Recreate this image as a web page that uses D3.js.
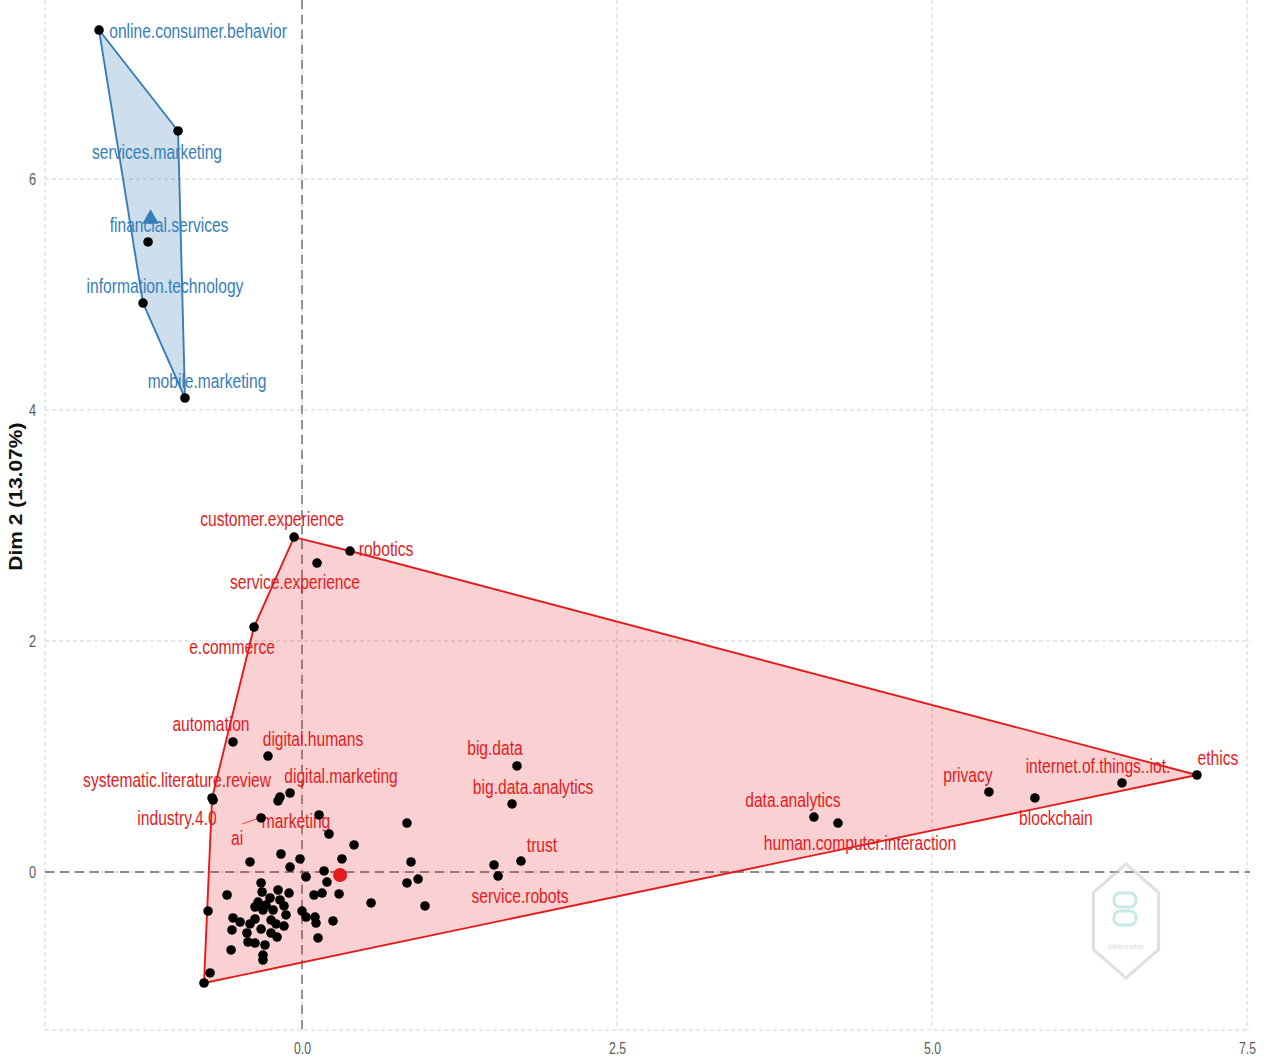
<!DOCTYPE html>
<html>
<head>
<meta charset="utf-8">
<script src="https://cdn.jsdelivr.net/npm/d3@7"></script>
<style>
  html, body { margin: 0; padding: 0; background: #ffffff; }
  svg { display: block; }
  .lbl { font-family: "Liberation Sans", Arial, sans-serif; font-size: 19.5px; }
  .tick-lbl { font-family: "Liberation Sans", Arial, sans-serif; font-size: 17px; fill: #5a5a5a; }
</style>
</head>
<body>
<svg id="chart" width="1271" height="1064"></svg>
<script>
// ---- Cluster 1 (blue): labelled words
const blueWords = ["online.consumer.behavior", "services.marketing", "financial.services",
                   "information.technology", "mobile.marketing"];
const blueX = [-1.611, -0.984, -1.222, -1.262, -0.929];
const blueY = [7.290, 6.416, 5.455, 4.926, 4.104];
const blueCentroid = [-1.202, 5.638];

// ---- Cluster 2 (red): labelled words
const redWords = ["customer.experience", "robotics", "service.experience", "e.commerce", "automation",
  "digital.humans", "systematic.literature.review", "industry.4.0", "digital.marketing", "ai",
  "marketing", "big.data", "big.data.analytics", "trust", "service.robots", "data.analytics",
  "human.computer.interaction", "privacy", "blockchain", "internet.of.things..iot.", "ethics"];
const redX = [-0.063, 0.381, 0.119, -0.381, -0.548, -0.270, -0.714, -0.706, -0.095, -0.325,
  0.135, 1.706, 1.667, 1.738, 1.556, 4.063, 4.254, 5.452, 5.817, 6.508, 7.103];
const redY = [2.900, 2.779, 2.675, 2.121, 1.126, 1.004, 0.641, 0.623, 0.684, 0.468,
  0.494, 0.918, 0.589, 0.095, -0.035, 0.476, 0.424, 0.693, 0.641, 0.771, 0.840];

// ---- Cluster 2 (red): remaining words (unlabelled)
const redOtherX = [-0.190, -0.175, 1.524, -0.167, -0.413, -0.016, -0.095, 0.214, 0.175, 0.032,
  0.198, -0.325, -0.595, -0.317, -0.190, -0.103, 0.095, 0.159, -0.746, -0.254,
  -0.175, -0.349, -0.286, -0.373, -0.143, -0.230, -0.310, -0.127, 0.000, 0.032,
  0.103, 0.246, -0.548, -0.492, -0.413, -0.373, -0.325, -0.246, -0.206, -0.143,
  -0.556, -0.437, -0.246, -0.198, 0.127, -0.429, -0.373, -0.294, -0.563, -0.310,
  -0.310, -0.730, -0.778, 0.413, 0.317, 0.294, 0.548, 0.833, 0.865, 0.833,
  0.921, 0.976, 0.111];
const redOtherY = [0.615, 0.649, 0.061, 0.156, 0.087, 0.113, 0.043, 0.329, 0.009, -0.043,
  -0.087, -0.095, -0.199, -0.173, -0.156, -0.182, -0.199, -0.182, -0.338, -0.225,
  -0.242, -0.260, -0.286, -0.303, -0.294, -0.329, -0.329, -0.372, -0.338, -0.390,
  -0.390, -0.424, -0.398, -0.433, -0.450, -0.407, -0.494, -0.416, -0.450, -0.468,
  -0.502, -0.528, -0.528, -0.563, -0.571, -0.606, -0.615, -0.632, -0.675, -0.719,
  -0.762, -0.874, -0.961, 0.234, 0.113, -0.190, -0.268, 0.424, 0.087, -0.095,
  -0.061, -0.294, -0.442];
const redCentroid = [0.302, -0.026];

// ---- Axes
const xTicks = [0, 2.5, 5, 7.5];
const yTicks = [0, 2, 4, 6];
const yTitle = "Dim 2 (13.07%)";

// ---- Label placement (pixel offsets from each point, repel-style layout)
const blueLabelOffset = [[99, 1], [-21, 21], [21, -17], [22, -17], [22, -17]];
const redLabelOffset = [[-22, -18], [36, -2], [-22, 19], [-22, 20], [-22, -18],
  [45, -17], [-35, -18], [-36, 18], [51, -17], [-24, 20],
  [-23, 6], [-22, -18], [21, -17], [21, -16], [22, 20], [-21, -17],
  [22, 20], [-21, -17], [21, 20], [-24, -17], [21, -17]];

(function draw() {
  const COL_RED = "#E41A1C";
  const COL_BLUE = "#377EB8";
  const SQUEEZE = 0.8;   // condensed text width

  const svg = d3.select("#chart");
  const pLeft = 45, pRight = 1250, pTop = 0, pBottom = 1030;

  const x = d3.scaleLinear().domain([-2.04, 7.524]).range([pLeft, pRight]);
  const y = d3.scaleLinear().domain([-1.368, 7.55]).range([pBottom, pTop]);

  // panel grid
  const grid = svg.append("g");
  grid.selectAll("line.vg").data(xTicks).join("line")
    .attr("x1", d => x(d)).attr("x2", d => x(d)).attr("y1", pTop).attr("y2", pBottom)
    .attr("stroke", "#cfcfcf").attr("stroke-width", 1).attr("stroke-dasharray", "4,3");
  grid.selectAll("line.hg").data(yTicks).join("line")
    .attr("x1", pLeft).attr("x2", pRight).attr("y1", d => y(d)).attr("y2", d => y(d))
    .attr("stroke", "#cfcfcf").attr("stroke-width", 1).attr("stroke-dasharray", "4,3");
  grid.append("line").attr("x1", pLeft).attr("x2", pLeft).attr("y1", pTop).attr("y2", pBottom)
    .attr("stroke", "#cfcfcf").attr("stroke-dasharray", "4,3");
  grid.append("line").attr("x1", pLeft).attr("x2", pRight).attr("y1", pBottom).attr("y2", pBottom)
    .attr("stroke", "#cfcfcf").attr("stroke-dasharray", "4,3");

  // origin lines
  svg.append("line").attr("x1", x(0)).attr("x2", x(0)).attr("y1", pTop).attr("y2", pBottom)
    .attr("stroke", "#6b6b6b").attr("stroke-width", 1.4).attr("stroke-dasharray", "9,6");
  svg.append("line").attr("x1", pLeft).attr("x2", pRight).attr("y1", y(0)).attr("y2", y(0))
    .attr("stroke", "#6b6b6b").attr("stroke-width", 1.4).attr("stroke-dasharray", "9,6");

  // condense a text node horizontally around its own anchor point
  function squeeze(sel, k) {
    sel.each(function () {
      const t = d3.select(this);
      const tx = +t.attr("x") || 0, ty = +t.attr("y") || 0;
      t.attr("transform", `translate(${tx},${ty}) scale(${k},1) translate(${-tx},${-ty})`);
    });
  }

  // axes
  const xAxis = d3.axisBottom(x).tickValues(xTicks).tickFormat(d3.format(".1f")).tickSize(0).tickPadding(12);
  const gx = svg.append("g").attr("transform", `translate(0,${pBottom})`).call(xAxis);
  gx.select(".domain").remove();
  gx.attr("font-size", null).attr("font-family", null);
  gx.selectAll("text").attr("class", "tick-lbl").attr("fill", null).call(squeeze, 0.72);

  const yAxis = d3.axisLeft(y).tickValues(yTicks).tickFormat(d3.format("d")).tickSize(0).tickPadding(9);
  const gy = svg.append("g").attr("transform", `translate(${pLeft},0)`).call(yAxis);
  gy.select(".domain").remove();
  gy.attr("font-size", null).attr("font-family", null);
  gy.selectAll("text").attr("class", "tick-lbl").attr("fill", null).call(squeeze, 0.75);

  svg.append("text")
    .attr("transform", `translate(22,${y(3.25)}) rotate(-90) scale(1,0.85)`)
    .attr("text-anchor", "middle")
    .attr("font-family", "Liberation Sans, Arial, sans-serif")
    .attr("font-weight", "bold").attr("font-size", 21).attr("fill", "#111")
    .text(yTitle);

  // watermark logo
  const wm = svg.append("g").attr("transform", "translate(1126,921)").attr("opacity", 0.55);
  const hexR = 57;
  const hexPts = d3.range(6).map(i => {
    const a = Math.PI / 2 + i * Math.PI / 3;
    return [Math.cos(a) * hexR * 0.66, -Math.sin(a) * hexR];
  });
  wm.append("polygon").attr("points", hexPts.map(p => p.join(",")).join(" "))
    .attr("fill", "none").attr("stroke", "#c8c8c8").attr("stroke-width", 3);
  wm.append("rect").attr("x", -12).attr("y", -28).attr("width", 22).attr("height", 14).attr("rx", 6)
    .attr("fill", "none").attr("stroke", "#9ad9d6").attr("stroke-width", 3);
  wm.append("rect").attr("x", -12).attr("y", -10).attr("width", 22).attr("height", 14).attr("rx", 6)
    .attr("fill", "none").attr("stroke", "#9ad9d6").attr("stroke-width", 3);
  wm.append("text").attr("y", 28).attr("text-anchor", "middle").attr("font-size", 7)
    .attr("fill", "#bbb").attr("font-family", "Liberation Sans, sans-serif").text("bibliometrix");

  // assemble clusters
  const blue = blueWords.map((w, i) => ({ w, x: blueX[i], y: blueY[i], off: blueLabelOffset[i] }));
  const red = redWords.map((w, i) => ({ w, x: redX[i], y: redY[i], off: redLabelOffset[i] }));
  const redOther = redOtherX.map((v, i) => ({ x: v, y: redOtherY[i] }));

  const clusters = [
    { col: COL_BLUE, fill: "rgba(55,126,184,0.25)", pts: blue, all: blue, c: blueCentroid, shape: "tri" },
    { col: COL_RED, fill: "rgba(228,26,28,0.2)", pts: red, all: red.concat(redOther), c: redCentroid, shape: "dot" }
  ];

  clusters.forEach(cl => {
    cl.hull = d3.polygonHull(cl.all.map(d => [x(d.x), y(d.y)]));
    svg.append("path").attr("d", "M" + cl.hull.join("L") + "Z")
      .attr("fill", cl.fill).attr("stroke", "none");
  });

  // word labels
  clusters.forEach(cl => {
    const g = svg.append("g");
    cl.pts.forEach(d => {
      const px = x(d.x), py = y(d.y);
      if (d.w === "ai") {
        g.append("line").attr("x1", px - 2).attr("y1", py).attr("x2", px + d.off[0] + 5).attr("y2", py + 6)
          .attr("stroke", cl.col).attr("stroke-width", 0.8);
      }
      g.append("text").attr("class", "lbl")
        .attr("x", px + d.off[0]).attr("y", py + d.off[1])
        .attr("text-anchor", "middle").attr("dominant-baseline", "central")
        .attr("fill", cl.col).text(d.w);
    });
    g.selectAll("text").call(squeeze, SQUEEZE);
  });

  // hull outlines
  clusters.forEach(cl => {
    svg.append("path").attr("d", "M" + cl.hull.join("L") + "Z")
      .attr("fill", "none").attr("stroke", cl.col).attr("stroke-width", 1.9).attr("stroke-linejoin", "round");
  });

  // points
  clusters.forEach(cl => {
    svg.append("g").selectAll("circle").data(cl.all).join("circle")
      .attr("cx", d => x(d.x)).attr("cy", d => y(d.y)).attr("r", 4.8).attr("fill", "#000");
  });

  // centroids
  clusters.forEach(cl => {
    const cx = x(cl.c[0]), cy = y(cl.c[1]);
    if (cl.shape === "tri") {
      svg.append("path").attr("d", d3.symbol(d3.symbolTriangle, 120)())
        .attr("transform", `translate(${cx},${cy - 2})`).attr("fill", cl.col);
    } else {
      svg.append("circle").attr("cx", cx).attr("cy", cy).attr("r", 7).attr("fill", cl.col);
    }
  });
})();
</script>
</body>
</html>
